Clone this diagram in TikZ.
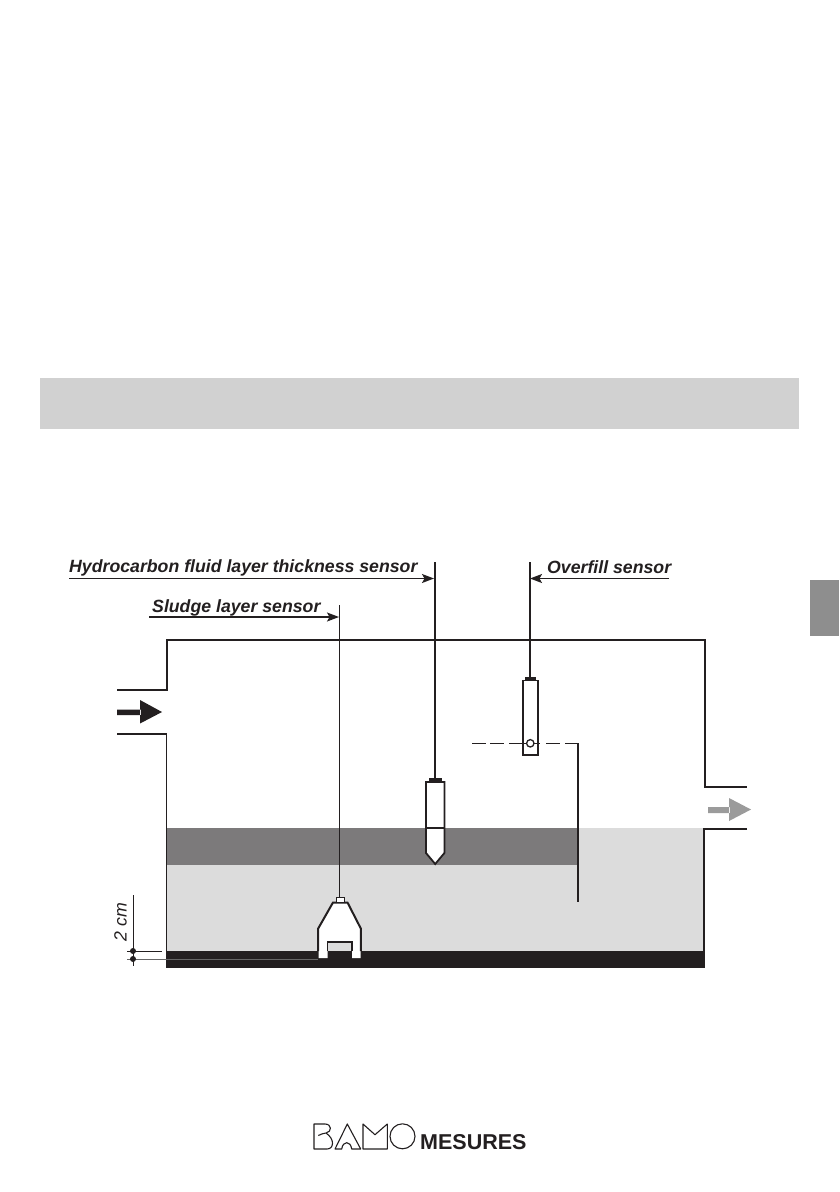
\documentclass[tikz,border=0pt]{standalone}
\usepackage{fontspec}
\setmainfont{Liberation Sans}
\usetikzlibrary{arrows.meta}
\definecolor{ink}{HTML}{231F20}
\definecolor{bandgray}{HTML}{D1D1D1}
\definecolor{tabgray}{HTML}{8E8E8E}
\definecolor{liquid}{HTML}{DCDCDC}
\definecolor{oilgray}{HTML}{7C7A7B}
\definecolor{outgray}{HTML}{9B9B9B}
\definecolor{hair}{HTML}{666666}
\tikzset{
  wall/.style={draw=ink,line width=2pt,line cap=butt,miter limit=10},
  thinwall/.style={draw=ink,line width=1.3pt},
  label/.style={font=\bfseries\itshape\fontsize{17.7}{19}\selectfont,text=ink,inner sep=0pt,anchor=base west},
  leader/.style={draw=ink,line width=1.3pt,-{Stealth[length=12pt,width=9pt,inset=2.5pt]}},
  dot/.style={circle,fill=ink,inner sep=0pt,minimum size=6pt},
  cable/.style={draw=ink,line width=2pt},
  casing/.style={draw=ink,line width=1.8pt,line join=miter},
  logostroke/.style={draw=ink,line width=1.1pt,line join=round},
}
\begin{document}
\begin{tikzpicture}[x=1pt,y=-1pt]
\useasboundingbox (0,0) rectangle (840,1192);
\fill[white] (0,0) rectangle (840,1192);
\fill[bandgray] (40,378) rectangle (799,429);
\fill[tabgray] (810,580) rectangle (839,636);
% liquids
\fill[liquid] (166,828) rectangle (705,951);
\fill[oilgray] (166,828) rectangle (578,865);
\fill[ink] (166,951) rectangle (705,968);
% tank walls
\draw[wall] (117,690) -- (166.5,690) -- (166.5,640) -- (705,640) -- (705,787) -- (747,787);
\draw[thinwall] (117,734) -- (166.5,734) -- (166.5,951);
\draw[wall] (747,829) -- (704,829) -- (704,951);
% flow arrows
\fill[ink] (117,709.5) rectangle (141,715) (140,700) -- (162,712) -- (140,723.5) -- cycle;
\fill[outgray] (708,807) rectangle (730,813) (729,798) -- (751,809.5) -- (729,821) -- cycle;
% level dimension
\draw[draw=ink,line width=.9pt] (133,895) -- (133,966);
\draw[draw=ink,line width=.9pt] (127,951) -- (162,951);
\draw[draw=hair,line width=.8pt] (127,959) -- (318,959);
\node[dot] (d1) at (133,951) {};
\node[dot] (d2) at (133,959) {};
\node[font=\itshape\fontsize{17.7}{19}\selectfont,text=ink,rotate=90,inner sep=0pt] (cm) at (120.5,922) {2 cm};
% overfill sensor
\draw[cable] (530,562) -- (530,680);
\fill[ink] (525,677) rectangle (536,681);
\draw[casing,fill=white] (523,680.5) rectangle (538,755);
\draw[draw=ink,line width=1pt] (472,743.3) -- (485.5,743.3) (490,743.3) -- (504,743.3) (509,743.3) -- (527,743.3) (534,743.3) -- (540,743.3) (546,743.3) -- (560,743.3) (565,743.3) -- (578.8,743.3);
\draw[draw=ink,line width=1.3pt] (530.3,743.3) circle (3.7);
\draw[draw=ink,line width=1.8pt] (578,743) -- (578,902);
% hydrocarbon sensor
\draw[cable] (435,562) -- (435,780);
\fill[ink] (429,778) rectangle (442,782);
\draw[casing,fill=white] (426,782) -- (444.4,782) -- (444.4,853) -- (435.2,864) -- (426,853) -- cycle;
\draw[draw=ink,line width=1.8pt] (426,828) -- (444,828);
% sludge sensor
\draw[draw=ink,line width=.9pt] (339.8,605) -- (339.8,897);
\fill[white] (333,902.5) -- (347.5,902.5) -- (360.5,928.5) -- (360.5,958) -- (352,958) -- (352,942) -- (327.5,942) -- (327.5,958) -- (318.5,958) -- (318.5,928.5) -- cycle;
\fill[liquid] (327.5,942) rectangle (352,951);
\draw[draw=ink,line width=2pt,line join=miter] (318.2,951) -- (318.2,928.5) -- (333,902.5) -- (347.5,902.5) -- (360.8,928.5) -- (360.8,951);
\draw[draw=ink,line width=1.8pt] (327.5,951) -- (327.5,942) -- (352,942) -- (352,951);
\draw[draw=ink,line width=1pt,fill=white] (336,897.5) rectangle (344,902.5);
% labels
\node[label] (hc) at (69,572) {Hydrocarbon fluid layer thickness sensor};
\coordinate (hcs) at (69,578.5);
\coordinate (hce) at (434,578.5);
\draw[leader] (hcs) -- (hce);
\node[label] (sl) at (152,612) {Sludge layer sensor};
\coordinate (sls) at (149,617);
\coordinate (sle) at (339,617);
\draw[leader] (sls) -- (sle);
\node[label] (of) at (547,573) {Overfill sensor};
\coordinate (ofs) at (669,578.5);
\coordinate (ofe) at (530,578.5);
\draw[leader] (ofs) -- (ofe);
% logo
\draw[logostroke] (318.3,1135.5) .. controls (321,1134) and (323,1133.5) .. (326,1133) .. controls (332,1132) and (332,1124) .. (325,1124) -- (314,1124) -- (314,1149) -- (327,1149) .. controls (334,1149) and (335,1139) .. (326,1133);
\draw[logostroke] (335,1149) -- (347.3,1124) -- (360.7,1149) -- (351.7,1149) .. controls (350.5,1140.5) and (343,1140.5) .. (341.7,1149) -- cycle;
\draw[logostroke] (363,1149) -- (363,1124) -- (375,1134.7) -- (387.3,1124) -- (387.3,1149) -- cycle;
\draw[logostroke] (402.5,1136.3) circle (12.5);
\node[font=\bfseries\fontsize{21.5}{23}\selectfont,text=ink,inner sep=0pt,anchor=base west] (mes) at (420,1149.5) {MESURES};
\end{tikzpicture}
\end{document}
